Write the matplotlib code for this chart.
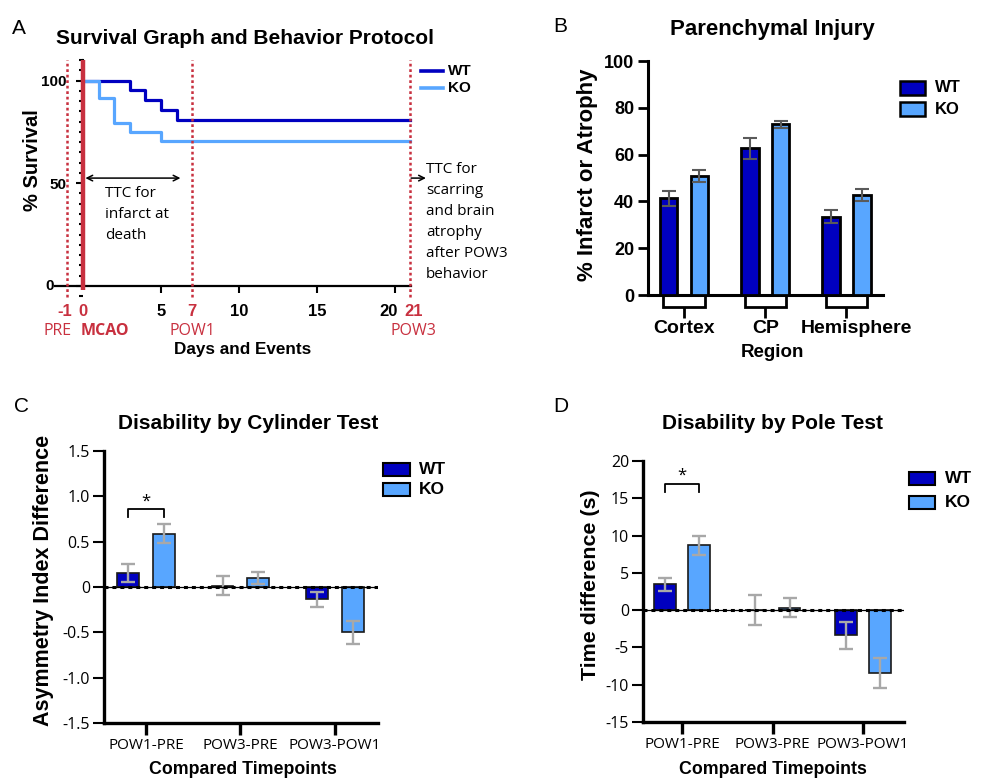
import matplotlib
matplotlib.use('Agg')
import matplotlib.pyplot as plt
import matplotlib.transforms as mtrans
from matplotlib.patches import Rectangle
from matplotlib.lines import Line2D
from matplotlib.ticker import MultipleLocator
import numpy as np

plt.rcParams['axes.unicode_minus'] = False

# ---------------- data ----------------
surv_wt_days = [0, 3, 4, 5, 6, 21]
surv_wt = [100, 95.2, 90.5, 85.7, 81.0, 81.0]
surv_ko_days = [0, 1, 2, 3, 5, 21]
surv_ko = [100, 91.7, 79.2, 75.0, 70.8, 70.8]
event_days = [-1, 0, 7, 21]
event_names = ['PRE', 'MCAO', 'POW1', 'POW3']
day_ticks = [5, 10, 15, 20]

regions = ['Cortex', 'CP', 'Hemisphere']
inj_wt = [41.3, 62.7, 33.5]
inj_wt_err = [3.2, 4.4, 2.8]
inj_ko = [50.9, 72.9, 42.7]
inj_ko_err = [2.5, 1.6, 2.6]

timepoints = ['POW1-PRE', 'POW3-PRE', 'POW3-POW1']
cyl_wt = [0.15, 0.015, -0.135]
cyl_wt_err = [0.10, 0.105, 0.085]
cyl_ko = [0.59, 0.10, -0.50]
cyl_ko_err = [0.11, 0.07, 0.125]
cyl_ticks = [1.5, 1.0, 0.5, 0, -0.5, -1.0, -1.5]
cyl_ticklabels = ['1.5', '1.0', '0.5', '0', '-0.5', '-1.0', '-1.5']

pole_wt = [3.45, 0.05, -3.35]
pole_wt_err = [0.9, 2.0, 1.8]
pole_ko = [8.7, 0.35, -8.4]
pole_ko_err = [1.25, 1.3, 2.0]
pole_ticks = [20, 15, 10, 5, 0, -5, -10, -15]

groups = ['WT', 'KO']

# ---------------- style ----------------
W, H = 988, 780
BOLD = 'Liberation Sans'
REG = 'Open Sans'
WT_C = '#0000C0'
KO_C = '#58A6FF'
RED = '#C8303F'

fig = plt.figure(figsize=(W / 100, H / 100), dpi=100)


def fx(x):
    return x / W


def fy(y):
    return 1 - y / H


def axes_px(l, t, r, b):
    return fig.add_axes([l / W, 1 - b / H, (r - l) / W, (b - t) / H])


def ftext(x, y, s, **kw):
    fig.text(fx(x), fy(y), s, **kw)


def shift_label(lbl, dx_px):
    lbl.set_transform(lbl.get_transform() +
                      mtrans.ScaledTranslation(dx_px / 100, 0, fig.dpi_scale_trans))


# ================= Panel A =================
axA = axes_px(55, 60, 415, 297)
axA.set_xlim(-1.8, 21.3)
axA.set_ylim(-5.4, 110)
for s in ['top', 'right']:
    axA.spines[s].set_visible(False)
axA.spines['left'].set_position(('data', 0))
axA.spines['bottom'].set_position(('data', 0))
axA.spines['left'].set_bounds(0, 110)
axA.spines['bottom'].set_bounds(-1.8, 21.05)
axA.spines['left'].set_linewidth(1.5)
axA.spines['bottom'].set_linewidth(1.6)

axA.step(surv_wt_days, surv_wt, where='post', color=WT_C, lw=2.3, zorder=4)
axA.step(surv_ko_days, surv_ko, where='post', color=KO_C, lw=2.3, zorder=4)

for d, name in zip(event_days, event_names):
    if name == 'MCAO':
        axA.plot([d, d], [-2, 110], color=RED, lw=3.2, zorder=5,
                 solid_capstyle='butt', clip_on=False)
    else:
        axA.plot([d, d], [-5.4, 110], color=RED, lw=1.8,
                 ls=(0, (1.1, 1.1)), zorder=5, clip_on=False)

# y ticks
axA.set_yticks([0, 50, 100])
axA.set_yticklabels(['', '50', '100'], fontfamily=BOLD, fontweight='bold', fontsize=11)
axA.yaxis.set_minor_locator(MultipleLocator(5))
axA.tick_params(axis='y', which='major', direction='out', length=5, width=1.5, pad=7)
axA.tick_params(axis='y', which='minor', direction='out', length=3, width=1.5)
axA.text(-1.85, 0, '0', ha='right', va='center', fontfamily=BOLD,
         fontweight='bold', fontsize=11)

# x ticks
xt = sorted(day_ticks + event_days)
axA.set_xticks(xt)
axA.set_xticklabels([str(v) for v in xt], fontfamily=BOLD, fontweight='bold', fontsize=12)
axA.tick_params(axis='x', direction='out', length=5, width=1.5, pad=8)
label_shift = {-1: -3, 20: -6, 21: 3}
for tk, v in zip(axA.xaxis.get_major_ticks(), xt):
    if v in event_days:
        tk.tick1line.set_visible(False)
        tk.label1.set_color(RED)
    if v in label_shift:
        shift_label(tk.label1, label_shift[v])

ev_offsets = {'PRE': -0.65, 'MCAO': 1.4, 'POW1': 0.0, 'POW3': 0.2}
for d, name in zip(event_days, event_names):
    axA.text(d + ev_offsets[name], -0.145, name, transform=axA.get_xaxis_transform(),
             ha='center', va='center', color=RED, fontsize=11.5, fontfamily=REG,
             fontweight='bold' if name == 'MCAO' else 'normal')

axA.annotate('', xy=(0.15, 52.5), xytext=(6.25, 52.5),
             arrowprops=dict(arrowstyle='<->', lw=1.1, color='black',
                             shrinkA=0, shrinkB=0), annotation_clip=False)
axA.annotate('', xy=(22.0, 52.5), xytext=(21.05, 52.5),
             arrowprops=dict(arrowstyle='->', lw=1.1, color='black',
                             shrinkA=0, shrinkB=0), annotation_clip=False)
axA.text(1.4, 48.8, 'TTC for\ninfarct at\ndeath', ha='left', va='top',
         fontfamily=REG, fontsize=11, linespacing=1.55)
axA.text(22.0, 60.5, 'TTC for\nscarring\nand brain\natrophy\nafter POW3\nbehavior',
         ha='left', va='top', fontfamily=REG, fontsize=11, linespacing=1.55,
         clip_on=False)

# legend A
for yy, c, lab in [(71, WT_C, groups[0]), (88, KO_C, groups[1])]:
    fig.add_artist(Line2D([fx(421), fx(443)], [fy(yy), fy(yy)], color=c, lw=2.6))
    ftext(448, yy, lab, ha='left', va='center', fontfamily=BOLD,
          fontweight='bold', fontsize=11)

ftext(12, 28, 'A', ha='left', va='center', fontfamily=BOLD, fontsize=15)
ftext(245, 38, 'Survival Graph and Behavior Protocol', ha='center', va='center',
      fontfamily=BOLD, fontweight='bold', fontsize=15)
ftext(33, 160, '% Survival', ha='center', va='center', rotation=90,
      fontfamily=BOLD, fontweight='bold', fontsize=14.5)
ftext(243, 350, 'Days and Events', ha='center', va='center',
      fontfamily=BOLD, fontweight='bold', fontsize=12.3)

# ================= Panel B =================
axB = axes_px(648, 61, 883, 295)
xB = np.arange(len(regions))
offB, wB = 0.19, 0.215
axB.bar(xB - offB, inj_wt, wB, color=WT_C, edgecolor='black', lw=2, zorder=3)
axB.bar(xB + offB, inj_ko, wB, color=KO_C, edgecolor='black', lw=2, zorder=3)
axB.errorbar(xB - offB, inj_wt, yerr=inj_wt_err, fmt='none', ecolor='#5a5a5a',
             elinewidth=1.5, capsize=5.2, capthick=1.5, zorder=4)
axB.errorbar(xB + offB, inj_ko, yerr=inj_ko_err, fmt='none', ecolor='#5a5a5a',
             elinewidth=1.5, capsize=5.2, capthick=1.5, zorder=4)
axB.set_xlim(-0.443, 2.45)
axB.set_ylim(0, 100)
for s in ['top', 'right']:
    axB.spines[s].set_visible(False)
for s in ['left', 'bottom']:
    axB.spines[s].set_linewidth(2.2)
axB.set_yticks(np.arange(0, 101, 20))
axB.set_yticklabels([str(v) for v in range(0, 101, 20)], fontfamily=BOLD,
                    fontweight='bold', fontsize=13)
axB.tick_params(axis='y', direction='out', length=7, width=2, pad=3)
axB.set_xticks(xB)
axB.set_xticklabels(regions, fontfamily=BOLD, fontweight='bold', fontsize=14)
axB.tick_params(axis='x', length=0, pad=18)
shift_label(axB.get_xticklabels()[2], 10)
for g in xB:
    axB.add_patch(Rectangle((g - 0.255, -5.1), 0.51, 5.1, facecolor='white',
                            edgecolor='black', lw=2, clip_on=False, zorder=2))
    axB.plot([g, g], [-5.1, -9.8], color='black', lw=2, clip_on=False,
             solid_capstyle='butt')

for yy, c, lab in [(88, WT_C, groups[0]), (109, KO_C, groups[1])]:
    fig.add_artist(Rectangle((fx(900), fy(yy + 6.5)), fx(25), 13 / H, facecolor=c,
                             edgecolor='black', lw=1.8))
    ftext(935, yy, lab, ha='left', va='center', fontfamily=BOLD,
          fontweight='bold', fontsize=12)

ftext(553, 27, 'B', ha='left', va='center', fontfamily=BOLD, fontsize=15)
ftext(772, 29, 'Parenchymal Injury', ha='center', va='center',
      fontfamily=BOLD, fontweight='bold', fontsize=16)
ftext(588, 175, '% Infarct or Atrophy', ha='center', va='center', rotation=90,
      fontfamily=BOLD, fontweight='bold', fontsize=16)
ftext(772, 353, 'Region', ha='center', va='center',
      fontfamily=BOLD, fontweight='bold', fontsize=13.5)


# ================= Panels C & D =================
def diff_panel(ax, wt, wt_err, ko, ko_err, ylim, ticks, ticklabels, xlim, off, w,
               sig_y):
    x = np.arange(len(timepoints))
    ax.bar(x - off, wt, w, color=WT_C, edgecolor='#1a1a1a', lw=1.2, zorder=3)
    ax.bar(x + off, ko, w, color=KO_C, edgecolor='#1a1a1a', lw=1.2, zorder=3)
    ax.errorbar(x - off, wt, yerr=wt_err, fmt='none', ecolor='#a8a8a8',
                elinewidth=1.7, capsize=5, capthick=1.7, zorder=5)
    ax.errorbar(x + off, ko, yerr=ko_err, fmt='none', ecolor='#a8a8a8',
                elinewidth=1.7, capsize=5, capthick=1.7, zorder=5)
    ax.axhline(0, color='black', lw=0.9, zorder=6)
    ax.axhline(0, color='black', lw=2.2, ls=(0, (1.3, 1.3)), zorder=6)
    ax.set_xlim(*xlim)
    ax.set_ylim(*ylim)
    for s in ['top', 'right']:
        ax.spines[s].set_visible(False)
    for s in ['left', 'bottom']:
        ax.spines[s].set_linewidth(2.4)
    ax.set_yticks(ticks)
    ax.set_yticklabels(ticklabels, fontfamily=REG, fontsize=11.5)
    ax.tick_params(axis='y', direction='out', length=8, width=1.5, pad=2)
    ax.set_xticks(x)
    ax.set_xticklabels(timepoints, fontfamily=REG, fontsize=11)
    ax.tick_params(axis='x', direction='out', length=8.5, width=2.4, pad=2)
    # significance bracket
    top, leg, star = sig_y
    ax.plot([x[0] - off, x[0] - off, x[0] + off, x[0] + off], [leg, top, top, leg],
            color='black', lw=1.3, zorder=6)
    ax.text(x[0], star, '*', ha='center', va='center', fontfamily=REG, fontsize=12)


axC = axes_px(104, 451, 378, 723)
diff_panel(axC, cyl_wt, cyl_wt_err, cyl_ko, cyl_ko_err, (-1.5, 1.5), cyl_ticks,
           cyl_ticklabels, (-0.444, 2.455), 0.19, 0.232, (0.86, 0.77, 0.94))
for yy, c, lab in [(469, WT_C, groups[0]), (490, KO_C, groups[1])]:
    fig.add_artist(Rectangle((fx(383), fy(yy + 6.5)), fx(27), 13 / H, facecolor=c,
                             edgecolor='black', lw=1.5))
    ftext(419, yy, lab, ha='left', va='center', fontfamily=BOLD,
          fontweight='bold', fontsize=12.5)
ftext(14, 407, 'C', ha='left', va='center', fontfamily=BOLD, fontsize=15)
ftext(248, 424, 'Disability by Cylinder Test', ha='center', va='center',
      fontfamily=BOLD, fontweight='bold', fontsize=15)
ftext(43, 580, 'Asymmetry Index Difference', ha='center', va='center', rotation=90,
      fontfamily=BOLD, fontweight='bold', fontsize=15.5)
ftext(243, 770, 'Compared Timepoints', ha='center', va='center',
      fontfamily=BOLD, fontweight='bold', fontsize=12.8)

axD = axes_px(643, 461, 904, 722)
diff_panel(axD, pole_wt, pole_wt_err, pole_ko, pole_ko_err, (-15, 20), pole_ticks,
           [str(v) for v in pole_ticks], (-0.431, 2.453), 0.188, 0.24,
           (16.9, 15.8, 18.0))
for yy, c, lab in [(478, WT_C, groups[0]), (502, KO_C, groups[1])]:
    fig.add_artist(Rectangle((fx(909), fy(yy + 6.5)), fx(26), 13 / H, facecolor=c,
                             edgecolor='black', lw=1.5))
    ftext(945, yy, lab, ha='left', va='center', fontfamily=BOLD,
          fontweight='bold', fontsize=12.5)
ftext(553, 407, 'D', ha='left', va='center', fontfamily=BOLD, fontsize=15)
ftext(772, 424, 'Disability by Pole Test', ha='center', va='center',
      fontfamily=BOLD, fontweight='bold', fontsize=15)
ftext(590, 585, 'Time difference (s)', ha='center', va='center', rotation=90,
      fontfamily=BOLD, fontweight='bold', fontsize=15.4)
ftext(773, 770, 'Compared Timepoints', ha='center', va='center',
      fontfamily=BOLD, fontweight='bold', fontsize=12.8)

fig.savefig('out.png', dpi=100)
